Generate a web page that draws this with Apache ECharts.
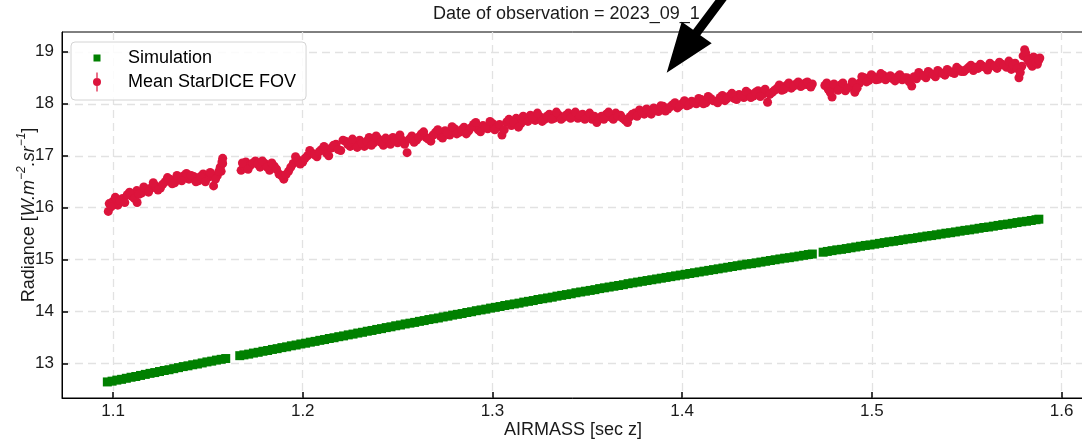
<!DOCTYPE html>
<html>
<head>
<meta charset="utf-8">
<script src="https://cdn.jsdelivr.net/npm/echarts@6/dist/echarts.min.js"></script>
<style>
  html, body { margin: 0; padding: 0; background: #ffffff; }
  #chart { width: 1082px; height: 442px; }
</style>
</head>
<body>
<div id="chart"></div>
<script>
// Simulated radiance versus airmass
const simAirmass = [
  1.0970, 1.0995, 1.1020, 1.1045, 1.1070, 1.1095, 1.1120, 1.1145, 1.1170, 1.1195, 1.1220, 1.1245,
  1.1270, 1.1295, 1.1320, 1.1345, 1.1370, 1.1395, 1.1420, 1.1445, 1.1470, 1.1495, 1.1520, 1.1545,
  1.1570, 1.1594,
  1.1668, 1.1690, 1.1715, 1.1740, 1.1765, 1.1790, 1.1815, 1.1840, 1.1865, 1.1890, 1.1915, 1.1940,
  1.1965, 1.1990, 1.2015, 1.2040, 1.2065, 1.2090, 1.2115, 1.2140, 1.2165, 1.2190, 1.2215, 1.2240,
  1.2265, 1.2290, 1.2315, 1.2340, 1.2365, 1.2390, 1.2415, 1.2440, 1.2465, 1.2490, 1.2515, 1.2540,
  1.2565, 1.2590, 1.2615, 1.2640, 1.2665, 1.2690, 1.2715, 1.2740, 1.2765, 1.2790, 1.2815, 1.2840,
  1.2865, 1.2890, 1.2915, 1.2940, 1.2965, 1.2990, 1.3015, 1.3040, 1.3065, 1.3090, 1.3115, 1.3140,
  1.3165, 1.3190, 1.3215, 1.3240, 1.3265, 1.3290, 1.3315, 1.3340, 1.3365, 1.3390, 1.3415, 1.3440,
  1.3465, 1.3490, 1.3515, 1.3540, 1.3565, 1.3590, 1.3615, 1.3640, 1.3665, 1.3690, 1.3715, 1.3740,
  1.3765, 1.3790, 1.3815, 1.3840, 1.3865, 1.3890, 1.3915, 1.3940, 1.3965, 1.3990, 1.4015, 1.4040,
  1.4065, 1.4090, 1.4115, 1.4140, 1.4165, 1.4190, 1.4215, 1.4240, 1.4265, 1.4290, 1.4315, 1.4340,
  1.4365, 1.4390, 1.4415, 1.4440, 1.4465, 1.4490, 1.4515, 1.4540, 1.4565, 1.4590, 1.4615, 1.4640,
  1.4665, 1.4686,
  1.4743, 1.4765, 1.4790, 1.4815, 1.4840, 1.4865, 1.4890, 1.4915, 1.4940, 1.4965, 1.4990, 1.5015,
  1.5040, 1.5065, 1.5090, 1.5115, 1.5140, 1.5165, 1.5190, 1.5215, 1.5240, 1.5265, 1.5290, 1.5315,
  1.5340, 1.5365, 1.5390, 1.5415, 1.5440, 1.5465, 1.5490, 1.5515, 1.5540, 1.5565, 1.5590, 1.5615,
  1.5640, 1.5665, 1.5690, 1.5715, 1.5740, 1.5765, 1.5790, 1.5815, 1.5840, 1.5865, 1.5880
];
const simRadiance = [
  12.650, 12.665, 12.685, 12.700, 12.720, 12.740, 12.755, 12.775, 12.795, 12.815, 12.830, 12.850,
  12.870, 12.885, 12.905, 12.925, 12.945, 12.960, 12.980, 12.995, 13.015, 13.035, 13.050, 13.070,
  13.085, 13.100,
  13.155, 13.170, 13.185, 13.205, 13.220, 13.240, 13.255, 13.275, 13.290, 13.310, 13.325, 13.345,
  13.360, 13.380, 13.395, 13.415, 13.430, 13.450, 13.465, 13.485, 13.500, 13.520, 13.535, 13.555,
  13.570, 13.590, 13.605, 13.625, 13.640, 13.660, 13.675, 13.695, 13.710, 13.730, 13.745, 13.765,
  13.780, 13.795, 13.815, 13.830, 13.850, 13.865, 13.880, 13.900, 13.915, 13.935, 13.950, 13.965,
  13.985, 14.000, 14.020, 14.035, 14.050, 14.070, 14.085, 14.100, 14.120, 14.135, 14.150, 14.165,
  14.185, 14.200, 14.215, 14.235, 14.250, 14.265, 14.280, 14.300, 14.315, 14.330, 14.345, 14.365,
  14.380, 14.395, 14.410, 14.425, 14.445, 14.460, 14.475, 14.490, 14.505, 14.520, 14.540, 14.555,
  14.570, 14.585, 14.600, 14.615, 14.630, 14.645, 14.660, 14.675, 14.690, 14.705, 14.720, 14.735,
  14.750, 14.765, 14.780, 14.795, 14.810, 14.825, 14.840, 14.855, 14.870, 14.885, 14.900, 14.915,
  14.925, 14.940, 14.955, 14.970, 14.985, 15.000, 15.015, 15.030, 15.040, 15.055, 15.070, 15.085,
  15.100, 15.110,
  15.145, 15.160, 15.175, 15.190, 15.200, 15.215, 15.230, 15.245, 15.260, 15.275, 15.285, 15.300,
  15.315, 15.330, 15.345, 15.355, 15.370, 15.385, 15.400, 15.410, 15.425, 15.440, 15.455, 15.465,
  15.480, 15.495, 15.510, 15.520, 15.535, 15.550, 15.565, 15.575, 15.590, 15.605, 15.620, 15.630,
  15.645, 15.660, 15.675, 15.685, 15.700, 15.715, 15.730, 15.740, 15.755, 15.770, 15.780
];

// Mean radiance measured over the StarDICE field of view
const fovAirmass = [
  1.0975, 1.0980, 1.1000, 1.1025, 1.1050, 1.1075, 1.1100, 1.1125, 1.1127, 1.1150, 1.1175, 1.1200,
  1.1225, 1.1250, 1.1275, 1.1300, 1.1325, 1.1350, 1.1375, 1.1400, 1.1425, 1.1450, 1.1475, 1.1500,
  1.1515, 1.1530, 1.1550, 1.1565, 1.1570, 1.1578, 1.1578,
  1.1675, 1.1690, 1.1700, 1.1725, 1.1750, 1.1775, 1.1800, 1.1825, 1.1850, 1.1875, 1.1900, 1.1925,
  1.1950, 1.1975, 1.2000, 1.2025, 1.2050, 1.2075, 1.2100, 1.2125, 1.2150, 1.2175, 1.2200, 1.2225,
  1.2250, 1.2275, 1.2300, 1.2325, 1.2350, 1.2375, 1.2400, 1.2425, 1.2450, 1.2475, 1.2500, 1.2525,
  1.2550, 1.2575, 1.2600, 1.2625, 1.2650, 1.2675, 1.2700, 1.2725, 1.2750, 1.2775, 1.2800, 1.2825,
  1.2850, 1.2875, 1.2900, 1.2925, 1.2950, 1.2975, 1.3000, 1.3025, 1.3050, 1.3075, 1.3100, 1.3125,
  1.3150, 1.3175, 1.3200, 1.3225, 1.3250, 1.3275, 1.3300, 1.3325, 1.3350, 1.3375, 1.3400, 1.3425,
  1.3450, 1.3475, 1.3500, 1.3525, 1.3550, 1.3575, 1.3600, 1.3625, 1.3650, 1.3675, 1.3700, 1.3725,
  1.3750, 1.3775, 1.3800, 1.3825, 1.3850, 1.3875, 1.3900, 1.3925, 1.3950, 1.3975, 1.4000, 1.4025,
  1.4050, 1.4075, 1.4100, 1.4125, 1.4150, 1.4175, 1.4200, 1.4225, 1.4250, 1.4275, 1.4300, 1.4325,
  1.4350, 1.4375, 1.4400, 1.4425, 1.4450, 1.4475, 1.4500, 1.4525, 1.4550, 1.4575, 1.4600, 1.4625,
  1.4650, 1.4668, 1.4686,
  1.4752, 1.4770, 1.4790, 1.4810, 1.4835, 1.4860, 1.4885, 1.4910, 1.4935, 1.4960, 1.4985, 1.5010,
  1.5035, 1.5060, 1.5085, 1.5110, 1.5135, 1.5160, 1.5185, 1.5210, 1.5235, 1.5260, 1.5285, 1.5310,
  1.5335, 1.5360, 1.5385, 1.5410, 1.5435, 1.5460, 1.5485, 1.5510, 1.5535, 1.5560, 1.5585, 1.5610,
  1.5635, 1.5660, 1.5685, 1.5710, 1.5735, 1.5755, 1.5775, 1.5790, 1.5805, 1.5815, 1.5830, 1.5845,
  1.5860, 1.5872, 1.5885,
  1.0990, 1.1012, 1.1037, 1.1062, 1.1087, 1.1112, 1.1137, 1.1162, 1.1187, 1.1212, 1.1237, 1.1262,
  1.1287, 1.1312, 1.1337, 1.1362, 1.1387, 1.1412, 1.1437, 1.1462, 1.1487, 1.1512, 1.1540, 1.1558,
  1.1574,
  1.1682, 1.1712, 1.1737, 1.1762, 1.1787, 1.1812, 1.1837, 1.1862, 1.1887, 1.1912, 1.1937, 1.1962,
  1.1987, 1.2012, 1.2037, 1.2062, 1.2087, 1.2112, 1.2137, 1.2162, 1.2187, 1.2212, 1.2237, 1.2262,
  1.2287, 1.2312, 1.2337, 1.2362, 1.2387, 1.2412, 1.2437, 1.2462, 1.2487, 1.2512, 1.2537, 1.2562,
  1.2587, 1.2612, 1.2637, 1.2662, 1.2687, 1.2712, 1.2737, 1.2762, 1.2787, 1.2812, 1.2837, 1.2862,
  1.2887, 1.2912, 1.2937, 1.2962, 1.2987, 1.3012, 1.3037, 1.3062, 1.3087, 1.3112, 1.3137, 1.3162,
  1.3187, 1.3212, 1.3237, 1.3262, 1.3287, 1.3312, 1.3337, 1.3362, 1.3387, 1.3412, 1.3437, 1.3462,
  1.3487, 1.3512, 1.3537, 1.3562, 1.3587, 1.3612, 1.3637, 1.3662, 1.3687, 1.3712, 1.3737, 1.3762,
  1.3787, 1.3812, 1.3837, 1.3862, 1.3887, 1.3912, 1.3937, 1.3962, 1.3987, 1.4012, 1.4037, 1.4062,
  1.4087, 1.4112, 1.4137, 1.4162, 1.4187, 1.4212, 1.4237, 1.4262, 1.4287, 1.4312, 1.4337, 1.4362,
  1.4387, 1.4412, 1.4437, 1.4462, 1.4487, 1.4512, 1.4537, 1.4562, 1.4587, 1.4612, 1.4637, 1.4660,
  1.4678,
  1.4762, 1.4780, 1.4800, 1.4822, 1.4847, 1.4872, 1.4897, 1.4922, 1.4947, 1.4972, 1.4997, 1.5022,
  1.5047, 1.5072, 1.5097, 1.5122, 1.5147, 1.5172, 1.5197, 1.5222, 1.5247, 1.5272, 1.5297, 1.5322,
  1.5347, 1.5372, 1.5397, 1.5422, 1.5447, 1.5472, 1.5497, 1.5522, 1.5547, 1.5572, 1.5597, 1.5622,
  1.5647, 1.5672, 1.5697, 1.5722, 1.5745, 1.5765, 1.5782, 1.5797, 1.5810, 1.5822, 1.5838, 1.5852,
  1.5866, 1.5880
];
const fovRadiance = [
  15.93, 16.08, 16.12, 16.05, 16.18, 16.25, 16.22, 16.33, 16.10, 16.28, 16.36, 16.38,
  16.42, 16.38, 16.50, 16.55, 16.48, 16.58, 16.62, 16.55, 16.60, 16.52, 16.65, 16.58,
  16.66, 16.42, 16.62, 16.78, 16.70, 16.95, 16.85,
  16.72, 16.80, 16.88, 16.82, 16.90, 16.78, 16.85, 16.72, 16.80, 16.65, 16.55, 16.70,
  16.85, 16.92, 16.88, 17.00, 17.05, 16.98, 17.12, 17.05, 17.15, 17.22, 17.10, 17.28,
  17.18, 17.22, 17.30, 17.18, 17.35, 17.25, 17.32, 17.20, 17.28, 17.35, 17.25, 17.30,
  17.06, 17.38, 17.30, 17.42, 17.35, 17.28, 17.45, 17.38, 17.48, 17.40, 17.52, 17.45,
  17.55, 17.48, 17.60, 17.50, 17.58, 17.52, 17.62, 17.55, 17.40, 17.65, 17.58, 17.72,
  17.62, 17.70, 17.78, 17.68, 17.75, 17.70, 17.80, 17.72, 17.78, 17.74, 17.82, 17.76,
  17.72, 17.80, 17.75, 17.70, 17.64, 17.76, 17.80, 17.74, 17.82, 17.78, 17.68, 17.75,
  17.82, 17.88, 17.80, 17.86, 17.92, 17.85, 17.95, 17.90, 17.98, 17.92, 18.00, 17.96,
  18.05, 18.00, 18.08, 18.02, 18.10, 18.05, 18.12, 18.06, 18.15, 18.10, 18.18, 18.12,
  18.20, 18.15, 18.25, 18.18, 18.03, 18.22, 18.30, 18.26, 18.35, 18.30, 18.38, 18.33,
  18.40, 18.36, 18.38,
  18.35, 18.28, 18.13, 18.30, 18.36, 18.25, 18.32, 18.22, 18.40, 18.50, 18.45, 18.52,
  18.47, 18.55, 18.50, 18.48, 18.52, 18.46, 18.50, 18.34, 18.48, 18.55, 18.50, 18.58,
  18.52, 18.60, 18.55, 18.62, 18.58, 18.66, 18.62, 18.70, 18.64, 18.68, 18.72, 18.65,
  18.74, 18.68, 18.76, 18.70, 18.66, 18.78, 18.50, 18.72, 19.04, 18.90, 18.80, 18.72,
  18.85, 18.76, 18.88,
  16.02, 16.20, 16.14, 16.10, 16.30, 16.18, 16.26, 16.40, 16.30, 16.48, 16.34, 16.45,
  16.58, 16.46, 16.62, 16.52, 16.66, 16.62, 16.50, 16.60, 16.50, 16.68, 16.55, 16.70,
  16.88,
  16.86, 16.74, 16.86, 16.84, 16.90, 16.78, 16.86, 16.74, 16.62, 16.64, 16.78, 16.98,
  16.84, 16.95, 17.10, 17.02, 17.08, 17.18, 17.00, 17.20, 17.12, 17.30, 17.22, 17.32,
  17.16, 17.24, 17.28, 17.20, 17.38, 17.26, 17.34, 17.22, 17.30, 17.40, 17.22, 17.32,
  17.26, 17.36, 17.46, 17.32, 17.40, 17.50, 17.34, 17.44, 17.56, 17.42, 17.50, 17.42,
  17.54, 17.64, 17.46, 17.54, 17.66, 17.50, 17.60, 17.50, 17.70, 17.64, 17.55, 17.76,
  17.66, 17.74, 17.82, 17.66, 17.76, 17.70, 17.84, 17.70, 17.78, 17.72, 17.84, 17.78,
  17.70, 17.82, 17.76, 17.70, 17.70, 17.84, 17.70, 17.76, 17.72, 17.64, 17.80, 17.76,
  17.84, 17.90, 17.80, 17.88, 17.96, 17.86, 17.94, 18.02, 17.96, 18.06, 17.98, 18.02,
  18.10, 18.00, 18.14, 18.06, 18.02, 18.16, 18.10, 18.20, 18.08, 18.16, 18.24, 18.12,
  18.22, 18.14, 18.28, 18.18, 18.26, 18.36, 18.28, 18.40, 18.34, 18.42, 18.36, 18.42,
  18.32,
  18.40, 18.22, 18.38, 18.26, 18.40, 18.30, 18.42, 18.30, 18.52, 18.42, 18.56, 18.46,
  18.58, 18.46, 18.54, 18.44, 18.56, 18.50, 18.42, 18.52, 18.60, 18.54, 18.62, 18.56,
  18.64, 18.58, 18.66, 18.60, 18.70, 18.62, 18.66, 18.74, 18.70, 18.76, 18.70, 18.78,
  18.72, 18.80, 18.74, 18.82, 18.74, 18.68, 18.60, 18.92, 18.98, 18.84, 18.76, 18.90,
  18.80, 18.84
];

// Axis ticks
const xTicks = [1.1, 1.2, 1.3, 1.4, 1.5, 1.6];
const yTicks = [13, 14, 15, 16, 17, 18, 19];

const FONT = '"Liberation Sans", Arial, Helvetica, sans-serif';
const zip = (xs, ys) => xs.map((x, i) => [x, ys[i]]);

const chart = echarts.init(document.getElementById('chart'), null, { renderer: 'canvas' });

// Legend icons drawn in a 52x20 frame; the tiny corner squares fix the frame size
const FRAME = 'M0,0h0.02v0.02h-0.02Z M51.98,19.98h0.02v0.02h-0.02Z ';
const squareIcon = 'path://' + FRAME + 'M22.5,6.5h7v7h-7Z';
const errorbarIcon = 'path://' + FRAME + 'M25.4,0.5H26.6V19.5H25.4Z M30,10A4,4 0 1 1 22,10A4,4 0 1 1 30,10Z';

// Arrow pointing at the field-of-view curve (pixel-space annotation)
const arrowShape = [
  [666.7, 72.7], [711.7, 43.3], [700.3, 35.2], [739.6, -17.3],
  [732.4, -22.7], [693.1, 29.8], [681.7, 21.7]
];

chart.setOption({
  animation: false,
  backgroundColor: '#ffffff',
  textStyle: { fontFamily: FONT, color: '#000' },
  title: {
    text: 'Date of observation = 2023_09_1',
    left: 433,
    top: 5,
    padding: 0,
    textStyle: { fontFamily: FONT, fontSize: 18, fontWeight: 'normal', color: '#1a1a1a' }
  },
  grid: {
    left: 62, right: -2, top: 32, bottom: 44,
    containLabel: false,
    outerBoundsMode: 'none',
    show: true,
    borderColor: '#000',
    borderWidth: 1,
    backgroundColor: 'transparent'
  },
  legend: {
    orient: 'vertical',
    left: 71,
    top: 42,
    padding: [6, 10, 8, 0],
    itemGap: 4,
    itemWidth: 52,
    itemHeight: 20,
    symbolKeepAspect: true,
    selectedMode: false,
    backgroundColor: 'rgba(255,255,255,0.85)',
    borderColor: '#d4d4d4',
    borderWidth: 1,
    borderRadius: 4,
    textStyle: { fontFamily: FONT, fontSize: 18, color: '#000', lineHeight: 20 },
    data: [
      { name: 'Simulation', icon: squareIcon },
      { name: 'Mean StarDICE FOV', icon: errorbarIcon }
    ]
  },
  xAxis: {
    type: 'value',
    min: 1.0731,
    max: 1.6118,
    name: 'AIRMASS [sec z]',
    nameLocation: 'middle',
    nameGap: 23,
    nameMoveOverlap: false,
    nameTextStyle: { fontFamily: FONT, fontSize: 18, color: '#1a1a1a' },
    axisLine: { show: true, onZero: false, lineStyle: { color: '#000', width: 1 } },
    axisTick: { show: true, inside: true, length: 6, customValues: xTicks, lineStyle: { color: '#000', width: 1.5 } },
    axisLabel: {
      customValues: xTicks, margin: 5, fontFamily: FONT, fontSize: 17, color: '#1a1a1a',
      formatter: v => v.toFixed(1)
    },
    splitLine: { show: true, lineStyle: { color: '#e2e2e2', width: 1.3, type: [8, 5] } }
  },
  yAxis: {
    type: 'value',
    min: 12.341,
    max: 19.38,
    name: '{n|Radiance [}{i|W.m}{s|−2}{i|.sr}{s|−1}{n|]}',
    nameLocation: 'middle',
    nameRotate: 90,
    nameGap: 24,
    nameMoveOverlap: false,
    nameTextStyle: {
      fontFamily: FONT, fontSize: 18, color: '#1a1a1a',
      rich: {
        n: { fontFamily: FONT, fontSize: 18, color: '#1a1a1a', lineHeight: 22, verticalAlign: 'bottom' },
        i: { fontFamily: FONT, fontSize: 18, fontStyle: 'italic', color: '#1a1a1a', lineHeight: 22, verticalAlign: 'bottom' },
        s: { fontFamily: FONT, fontSize: 12, fontStyle: 'italic', color: '#1a1a1a', verticalAlign: 'top' }
      }
    },
    axisLine: { show: true, onZero: false, lineStyle: { color: '#000', width: 1 } },
    axisTick: { show: true, inside: true, length: 6, customValues: yTicks, lineStyle: { color: '#000', width: 1.5 } },
    axisLabel: { customValues: yTicks, margin: 8, fontFamily: FONT, fontSize: 17, color: '#1a1a1a' },
    splitLine: { show: true, lineStyle: { color: '#e2e2e2', width: 1.3, type: [8, 5] } }
  },
  series: [
    {
      name: 'Simulation',
      type: 'scatter',
      symbol: 'rect',
      symbolSize: 9,
      itemStyle: { color: '#008000', opacity: 1 },
      data: zip(simAirmass, simRadiance),
      z: 3
    },
    {
      name: 'Mean StarDICE FOV',
      type: 'scatter',
      symbol: 'circle',
      symbolSize: 9,
      itemStyle: { color: '#dc143c', opacity: 1 },
      data: zip(fovAirmass, fovRadiance),
      z: 3
    }
  ],
  graphic: [
    {
      type: 'polygon',
      z: 100,
      silent: true,
      shape: { points: arrowShape },
      style: { fill: '#000' }
    }
  ]
});
</script>
</body>
</html>
